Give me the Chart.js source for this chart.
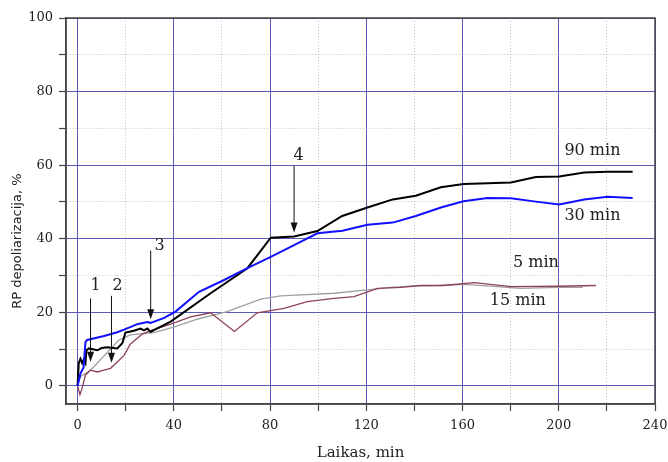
<!DOCTYPE html>
<html>
<head>
<meta charset="utf-8">
<script src="https://cdn.jsdelivr.net/npm/chart.js@4.4.1/dist/chart.umd.min.js"></script>
<style>
  html, body { margin: 0; padding: 0; background: #fff; }
  #chart { display: block; }
</style>
</head>
<body>
<canvas id="chart" width="668" height="462"></canvas>
<script>
// 90 min
const time90 = [0, 0.5, 1.2, 1.9, 2.6, 3.3, 3.7, 4.7, 8.2, 10, 12.3, 16.5, 18.6, 19.9, 22, 23.4, 26.2, 27.6, 29, 30.4, 31.7, 38.7, 55.3, 70.6, 80.3, 90, 99.7, 110, 120.5, 131, 140.6, 151, 160.4, 170.4, 180.1, 190.5, 200.2, 210.6, 220.3, 230.7];
const depol90 = [0, 6.2, 7.4, 6.2, 7.2, 6.2, 9.7, 10.2, 9.7, 10.3, 10.5, 10.2, 11.6, 14.5, 14.8, 15, 15.6, 15.1, 15.6, 14.7, 15.2, 17.5, 25.2, 32, 40.3, 40.6, 42.1, 46.2, 48.5, 50.7, 51.7, 54, 54.9, 55.1, 55.3, 56.8, 56.9, 58, 58.2, 58.2];
// 30 min
const time30 = [0, 1.2, 2.5, 3.3, 4, 11, 16.5, 19.3, 21.9, 24.8, 29, 30.4, 36, 40.7, 50.5, 60.9, 70.6, 80.3, 90, 99.7, 110.1, 120.5, 131, 140.6, 151, 160.4, 170.4, 180.1, 190.5, 200.2, 210.6, 220.3, 230.7];
const depol30 = [0, 3.4, 5, 12, 12.5, 13.6, 14.6, 15.3, 16, 16.8, 17.4, 17.1, 18.5, 20.2, 25.6, 28.8, 32, 35.1, 38.3, 41.5, 42.2, 43.8, 44.4, 46.2, 48.5, 50.2, 51.1, 51, 50.1, 49.3, 50.7, 51.4, 51.1];
// 5 min
const time5 = [0, 1.2, 5.4, 17.2, 22, 31.7, 40, 50, 62.2, 76.1, 84.4, 106.6, 120.5, 130, 140, 150, 160.4, 170, 184.3, 200.2, 210];
const depol5 = [0, 2.5, 4.3, 12.5, 13.9, 14.5, 16, 18.2, 20.2, 23.6, 24.5, 25.2, 26.1, 26.8, 27.2, 27.3, 27.6, 27.2, 26.5, 26.8, 26.8];
// 15 min
const time15 = [0, 1, 1.9, 3.3, 5.4, 8.2, 11, 13.7, 16.5, 19.3, 22, 26.9, 31, 38.7, 47, 55.3, 65.2, 74.7, 85.8, 95.5, 106.6, 114.9, 124.7, 134.4, 142.7, 152, 164.9, 180.1, 200.2, 215.5];
const depol15 = [0, -2.4, -0.6, 3, 4.3, 3.8, 4.3, 4.8, 6.5, 8.3, 11.4, 14.1, 15.2, 16.8, 18.8, 19.9, 14.8, 19.9, 21.1, 22.9, 23.8, 24.3, 26.5, 26.8, 27.3, 27.3, 28.1, 27, 27.1, 27.3];

const xTickValues = [0, 20, 40, 60, 80, 100, 120, 140, 160, 180, 200, 220, 240];
const xLabelValues = [0, 40, 80, 120, 160, 200, 240];
const yTickValues = [0, 10, 20, 30, 40, 50, 60, 70, 80, 90, 100];
const yLabelValues = [0, 20, 40, 60, 80, 100];

// rodyklės 1-4
const arrowNames = ['1', '2', '3', '4'];
const arrowX = [5.4, 14.1, 30.4, 90];
const arrowFrom = [23.8, 24.5, 36.8, 59.8];
const arrowTo = [6.6, 6.3, 18.1, 41.7];
const arrowLabelX = [7.5, 16.6, 34.1, 91.9];
const arrowLabelY = [27.2, 27.2, 38, 62.5];

// kreivių pavadinimai
const seriesNames = ['90 min', '30 min', '5 min', '15 min'];
const seriesLabelX = [214, 214, 190.5, 183];
const seriesLabelY = [63.9, 46.2, 33.5, 23.1];

const toPoints = (xs, ys) => xs.map((x, i) => ({ x: x, y: ys[i] }));

const majorBlue = '#5a5ab8';
const minorGray = '#c4c4c4';
const axisColor = '#444';
const serif = 'DejaVu Serif';

const annotations = {
    id: 'annotations',
    afterDatasetsDraw(chart) {
        const { ctx, scales: { x, y } } = chart;
        ctx.save();
        ctx.strokeStyle = '#111';
        ctx.fillStyle = '#111';
        ctx.lineWidth = 1;
        arrowX.forEach((v, i) => {
            const px = x.getPixelForValue(v);
            const p1 = y.getPixelForValue(arrowFrom[i]);
            const p2 = y.getPixelForValue(arrowTo[i]);
            ctx.beginPath();
            ctx.moveTo(px, p1);
            ctx.lineTo(px, p2 - 8);
            ctx.stroke();
            ctx.beginPath();
            ctx.moveTo(px, p2);
            ctx.lineTo(px - 3.5, p2 - 10);
            ctx.lineTo(px + 3.5, p2 - 10);
            ctx.closePath();
            ctx.fill();
        });
        ctx.font = '16px "' + serif + '"';
        ctx.fillStyle = '#222';
        ctx.textAlign = 'center';
        ctx.textBaseline = 'middle';
        arrowNames.forEach((t, i) => {
            ctx.fillText(t, x.getPixelForValue(arrowLabelX[i]), y.getPixelForValue(arrowLabelY[i]));
        });
        seriesNames.forEach((t, i) => {
            ctx.fillText(t, x.getPixelForValue(seriesLabelX[i]), y.getPixelForValue(seriesLabelY[i]));
        });
        ctx.restore();
    },
    afterDraw(chart) {
        const { ctx, chartArea } = chart;
        ctx.save();
        // rėmelis
        ctx.strokeStyle = axisColor;
        ctx.lineWidth = 1.5;
        ctx.strokeRect(chartArea.left, chartArea.top, chartArea.right - chartArea.left, chartArea.bottom - chartArea.top);
        // y ašies pavadinimas
        ctx.translate(18, chartArea.top + 0.578 * (chartArea.bottom - chartArea.top));
        ctx.rotate(-Math.PI / 2);
        ctx.font = '13px "DejaVu Sans"';
        ctx.fillStyle = '#222';
        ctx.textAlign = 'center';
        ctx.textBaseline = 'middle';
        ctx.fillText('RP depoliarizacija, %', 0, 0);
        ctx.restore();
    }
};

const lineSet = (label, xs, ys, color, width) => ({
    label: label,
    data: toPoints(xs, ys),
    borderColor: color,
    backgroundColor: color,
    borderWidth: width,
    pointRadius: 0,
    showLine: true,
    fill: false,
    tension: 0
});

new Chart(document.getElementById('chart'), {
    type: 'scatter',
    data: {
        datasets: [
            lineSet('30 min', time30, depol30, '#1010ff', 2),
            lineSet('90 min', time90, depol90, '#000000', 2),
            lineSet('15 min', time15, depol15, '#8e4256', 1.3),
            lineSet('5 min', time5, depol5, '#a0a0a0', 1.3)
        ]
    },
    options: {
        responsive: false,
        animation: false,
        layout: { padding: { top: 18, right: 13, left: 0, bottom: 0 } },
        plugins: {
            legend: { display: false },
            tooltip: { enabled: false }
        },
        scales: {
            x: {
                type: 'linear',
                min: -4.8,
                max: 240,
                afterBuildTicks: s => { s.ticks = xTickValues.map(v => ({ value: v })); },
                afterFit: s => { s.height = 58; s.paddingLeft = 0; s.paddingRight = 0; },
                ticks: {
                    autoSkip: false,
                    maxRotation: 0,
                    padding: 7,
                    color: '#222',
                    font: { family: serif, size: 13 },
                    callback: v => xLabelValues.includes(v) ? String(v) : ''
                },
                grid: {
                    color: c => (c.tick && xLabelValues.includes(c.tick.value)) ? majorBlue : minorGray,
                    lineWidth: 1,
                    tickColor: axisColor,
                    tickLength: 7,
                    tickWidth: 1.2
                },
                border: {
                    color: axisColor,
                    width: 1.5,
                    dash: c => (c.tick && !xLabelValues.includes(c.tick.value)) ? [1, 2] : []
                },
                title: {
                    display: true,
                    text: 'Laikas, min',
                    color: '#222',
                    font: { family: serif, size: 15 },
                    padding: { top: 0, bottom: 0 }
                }
            },
            y: {
                type: 'linear',
                min: -4.9,
                max: 100,
                afterBuildTicks: s => { s.ticks = yTickValues.map(v => ({ value: v })); },
                afterFit: s => { s.width = 66; s.paddingTop = 0; s.paddingBottom = 0; },
                ticks: {
                    autoSkip: false,
                    padding: 6,
                    color: '#222',
                    font: { family: serif, size: 13 },
                    callback: v => yLabelValues.includes(v) ? String(v) : ''
                },
                grid: {
                    color: c => (c.tick && yLabelValues.includes(c.tick.value)) ? majorBlue : minorGray,
                    lineWidth: 1,
                    tickColor: axisColor,
                    tickLength: 7,
                    tickWidth: 1.2
                },
                border: {
                    color: axisColor,
                    width: 1.5,
                    dash: c => (c.tick && !yLabelValues.includes(c.tick.value)) ? [1, 2] : []
                }
            }
        }
    },
    plugins: [annotations]
});
</script>
</body>
</html>
